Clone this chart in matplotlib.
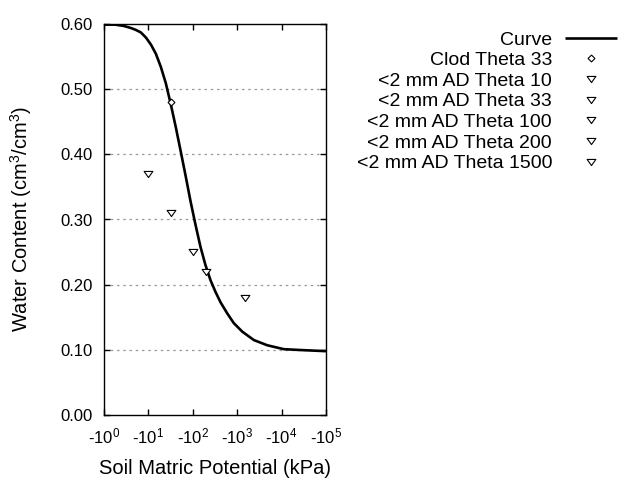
import matplotlib
matplotlib.use("Agg")
import matplotlib.pyplot as plt
from matplotlib.path import Path
from matplotlib.ticker import FixedLocator, FixedFormatter, NullLocator

plt.rcParams['font.family'] = ['Liberation Sans', 'DejaVu Sans']
plt.rcParams['mathtext.fontset'] = 'custom'
plt.rcParams['mathtext.rm'] = 'Liberation Sans'
plt.rcParams['mathtext.it'] = 'Liberation Sans:italic'
plt.rcParams['mathtext.bf'] = 'Liberation Sans:bold'

# Curve (|matric potential| in kPa, water content)
curve_kpa = [1.0, 1.80, 2.79, 3.98, 5.20, 6.78, 8.85, 11.5, 14.8, 19.1, 24.7,
             31.9, 41.3, 53.3, 68.9, 88.9, 115, 149, 193, 250, 324, 421, 596,
             838, 1297, 2371, 4755, 11250, 26600, 96400, 100000]
curve_theta = [0.599, 0.599, 0.597, 0.594, 0.591, 0.587, 0.579, 0.568, 0.554,
               0.534, 0.509, 0.477, 0.442, 0.405, 0.367, 0.328, 0.292, 0.258,
               0.230, 0.207, 0.189, 0.173, 0.156, 0.141, 0.128, 0.115, 0.107,
               0.101, 0.0997, 0.098, 0.098]

clod_kpa = [33]
clod_theta = [0.48]

ad_labels = ["<2 mm AD Theta 10", "<2 mm AD Theta 33", "<2 mm AD Theta 100",
             "<2 mm AD Theta 200", "<2 mm AD Theta 1500"]
ad_kpa = [10, 33, 100, 200, 1500]
ad_theta = [0.37, 0.31, 0.25, 0.22, 0.18]

xtick_vals = [1, 10, 100, 1000, 10000, 100000]
xtick_labels = ["-10$^{0}$", "-10$^{1}$", "-10$^{2}$", "-10$^{3}$", "-10$^{4}$", "-10$^{5}$"]
ytick_vals = [0.0, 0.1, 0.2, 0.3, 0.4, 0.5, 0.6]
ytick_labels = ["0.00", "0.10", "0.20", "0.30", "0.40", "0.50", "0.60"]

tri = Path([(-1.0, 0.7), (1.0, 0.7), (0.0, -0.7), (-1.0, 0.7)],
           [Path.MOVETO, Path.LINETO, Path.LINETO, Path.CLOSEPOLY])

fig = plt.figure(figsize=(6.4, 4.8), dpi=100)
ax = fig.add_axes([104/640, 1-415/480, (326-104)/640, (415-24)/480])

ax.plot(curve_kpa, curve_theta, color='black', lw=1.9, label="Curve", zorder=3,
        solid_joinstyle='round', solid_capstyle='butt')
ax.plot(clod_kpa, clod_theta, linestyle='none', marker='D', markersize=3.5,
        markerfacecolor='white', markeredgecolor='black', markeredgewidth=0.8,
        label="Clod Theta 33", zorder=4)
for lab, xv, yv in zip(ad_labels, ad_kpa, ad_theta):
    ax.plot([xv], [yv], linestyle='none', marker=tri, markersize=6.3,
            markerfacecolor='white', markeredgecolor='black', markeredgewidth=0.8,
            label=lab, zorder=4)

ax.set_xscale('log')
ax.set_xlim(1, 100000)
ax.set_ylim(0, 0.6)
ax.xaxis.set_major_locator(FixedLocator(xtick_vals))
ax.xaxis.set_major_formatter(FixedFormatter(xtick_labels))
ax.xaxis.set_minor_locator(NullLocator())
ax.yaxis.set_major_locator(FixedLocator(ytick_vals))
ax.yaxis.set_major_formatter(FixedFormatter(ytick_labels))
ax.tick_params(direction='in', top=True, right=True, length=4, width=1,
               labelsize=12)
ax.tick_params(axis='y', pad=8)
ax.tick_params(axis='x', pad=8)
for sp in ax.spines.values():
    sp.set_linewidth(1)

for yv in [0.1, 0.2, 0.3, 0.4, 0.5]:
    ax.axhline(yv, color='#999999', linestyle=(0, (2, 3)), lw=0.9, zorder=1)

ax.set_xlabel("Soil Matric Potential (kPa)", fontsize=14.5, labelpad=9)
ax.set_ylabel("Water Content (cm$^3$/cm$^3$)", fontsize=14.5, labelpad=19)

leg = fig.legend(loc='upper right', bbox_to_anchor=(617/640, 1-31/480),
                 markerfirst=False, frameon=False, fontsize=14,
                 handlelength=2.67, handletextpad=0.67, labelspacing=0.155,
                 borderaxespad=0, borderpad=0)

fig.savefig("out.png", dpi=100)
